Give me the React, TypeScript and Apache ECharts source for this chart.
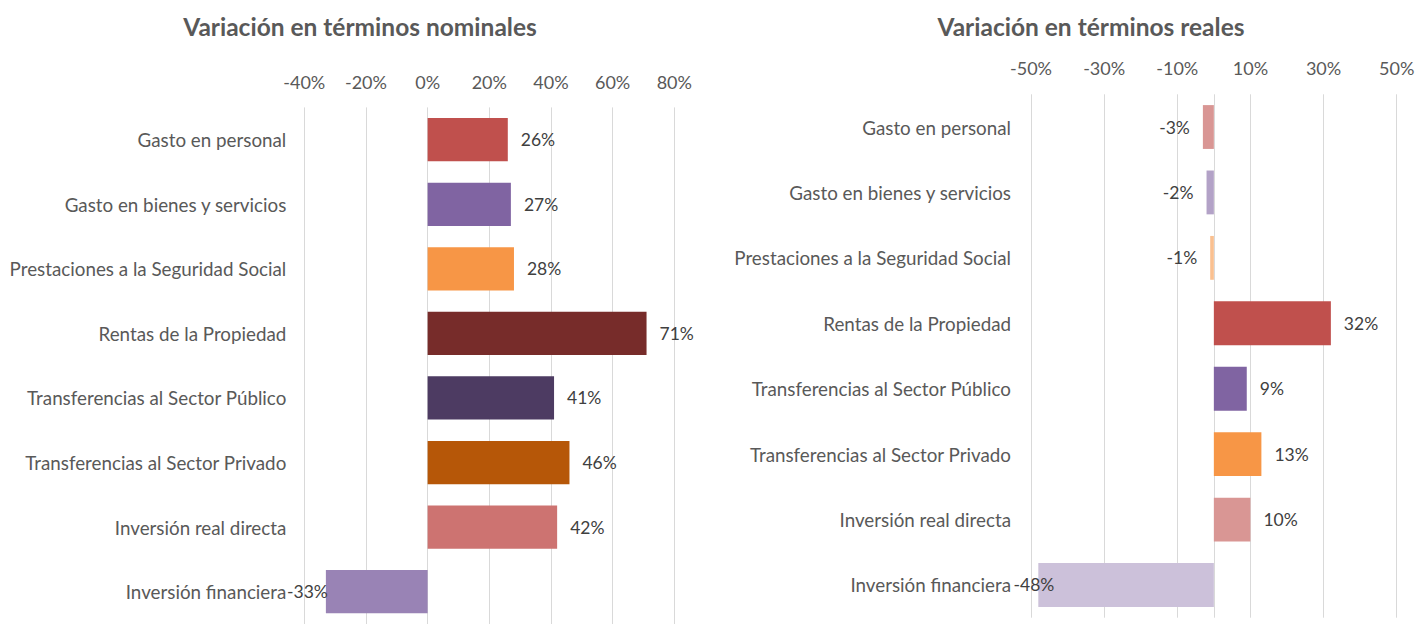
import React, { useEffect, useRef } from "react";
import * as echarts from "echarts";

const categories = [
  "Gasto en personal",
  "Gasto en bienes y servicios",
  "Prestaciones a la Seguridad Social",
  "Rentas de la Propiedad",
  "Transferencias al Sector Público",
  "Transferencias al Sector Privado",
  "Inversión real directa",
  "Inversión financiera",
];
const nominalValues = [26, 27, 28, 71, 41, 46, 42, -33];
const realValues = [-3, -2, -1, 32, 9, 13, 10, -48];
const nominalColors = ["#C0504D", "#8064A2", "#F79646", "#772C2A", "#4D3B62", "#B65708", "#CD7371", "#9983B5"];
const realColors = ["#D99694", "#B3A2C7", "#FAC090", "#C0504D", "#8064A2", "#F79646", "#D99694", "#CCC1DA"];
const nominalTicks = { min: -40, max: 80, interval: 20 };
const realTicks = { min: -50, max: 50, interval: 10 };
const realGridValues = [-50, -30, -10, 0, 10, 30, 50];
const titles = ["Variación en términos nominales", "Variación en términos reales"];

const FONT = "Lato";
const LABEL_COLOR = "#595959";
const DATA_COLOR = "#404040";
const GRID_COLOR = "#D9D9D9";

function barData(values: number[], colors: string[], negDist: Record<number, number>) {
  return values.map((v, i) => ({
    value: v,
    itemStyle: { color: colors[i] },
    label: {
      position: v >= 0 ? "right" : "left",
      distance: v >= 0 ? 13 : (negDist[i] !== undefined ? negDist[i] : 13),
    },
  }));
}

export default function App() {
  const ref = useRef<HTMLDivElement>(null);
  useEffect(() => {
    document.body.style.margin = "0";
    if (!ref.current) return;
    const chart = echarts.init(ref.current, null, { renderer: "svg" });
    const catAxis = (gridIndex: number) => ({
      type: "category",
      gridIndex,
      data: categories,
      inverse: true,
      axisLine: { show: false, onZero: false },
      axisTick: { show: false },
      axisLabel: { color: LABEL_COLOR, fontSize: 18.8, fontFamily: FONT, margin: gridIndex === 0 ? 18 : 20 },
    });
    const titleStyle = { color: LABEL_COLOR, fontSize: 24.5, fontWeight: "bold", fontFamily: FONT };
    chart.setOption({
      animation: false,
      textStyle: { fontFamily: FONT },
      title: [
        { text: titles[0], left: 355, top: 9, textAlign: "center", textStyle: titleStyle },
        { text: titles[1], left: 1086, top: 9, textAlign: "center", textStyle: titleStyle },
      ],
      grid: [
        { left: 304.3, top: 107.4, width: 370, height: 521.6 },
        { left: 1031, top: 94.3, width: 365.7, height: 523.4 },
      ],
      xAxis: [
        {
          type: "value",
          gridIndex: 0,
          position: "top",
          min: nominalTicks.min,
          max: nominalTicks.max,
          interval: nominalTicks.interval,
          axisLine: { show: false },
          axisTick: { show: false },
          splitLine: { show: true, lineStyle: { color: GRID_COLOR, width: 1 } },
          axisLabel: { formatter: "{value}%", color: LABEL_COLOR, fontSize: 18, fontFamily: FONT, margin: 16 },
        },
        {
          type: "value",
          gridIndex: 1,
          position: "top",
          min: realTicks.min,
          max: realTicks.max,
          interval: realTicks.interval,
          axisLine: { show: false },
          axisTick: { show: false },
          splitLine: { show: false },
          axisLabel: {
            formatter: (v: number) => (Math.abs(Math.round(v)) % 20 === 10 ? `${v}%` : ""),
            color: LABEL_COLOR,
            fontSize: 18,
            fontFamily: FONT,
            margin: 17,
          },
        },
      ],
      yAxis: [catAxis(0), catAxis(1)],
      series: [
        {
          type: "bar",
          xAxisIndex: 0,
          yAxisIndex: 0,
          barWidth: "67%",
          data: barData(nominalValues, nominalColors, { 7: -2 }),
          label: { show: true, formatter: "{c}%", color: DATA_COLOR, fontSize: 17.5, fontFamily: FONT },
        },
        {
          type: "bar",
          xAxisIndex: 1,
          yAxisIndex: 1,
          barWidth: "67%",
          z: 3,
          data: barData(realValues, realColors, { 7: -16 }),
          label: { show: true, formatter: "{c}%", color: DATA_COLOR, fontSize: 17.5, fontFamily: FONT },
          markLine: {
            z: 1,
            silent: true,
            symbol: "none",
            label: { show: false },
            lineStyle: { color: GRID_COLOR, width: 1, type: "solid" },
            data: realGridValues.map((v) => ({ xAxis: v })),
          },
        },
      ],
    });
    return () => chart.dispose();
  }, []);
  return <div ref={ref} style={{ width: 1421, height: 624 }} />;
}
